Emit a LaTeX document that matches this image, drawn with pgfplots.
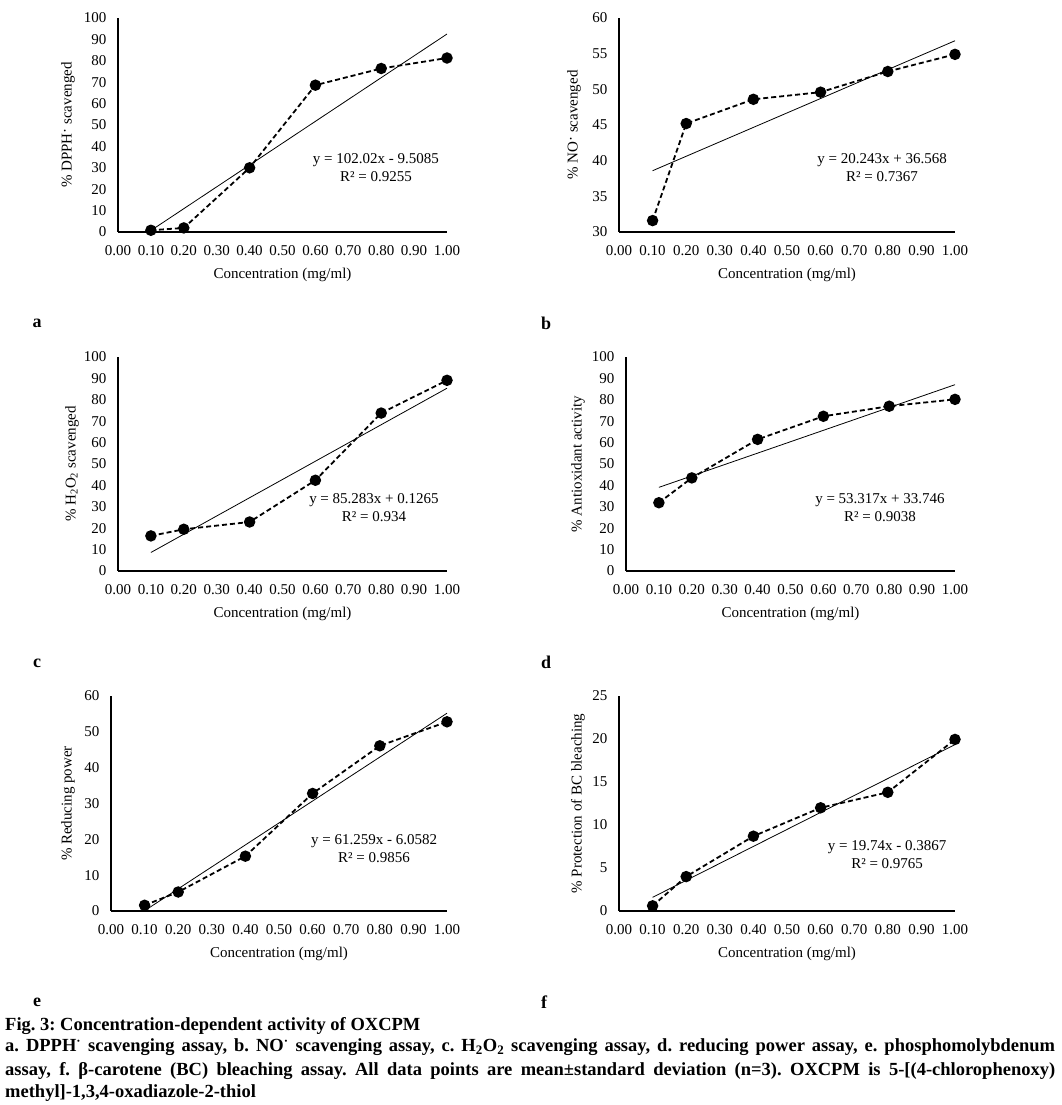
\documentclass[border=0pt]{standalone}
\usepackage{pgfplots}
\pgfplotsset{compat=1.18}
\usepackage{fontspec}
\setmainfont{Liberation Serif}
\frenchspacing

\newcommand\fs{\fontsize{15bp}{18bp}\selectfont}
\newcommand\capfs{\fontsize{18.5bp}{22bp}\selectfont\bfseries}
\newcommand\rad{\raisebox{0.25ex}{·}}

\pgfplotsset{
  panel/.style={
    scale only axis, width=329bp, height=214bp,
    anchor=south west,
    axis lines*=left,
    axis line style={line width=1.6bp, black},
    xmin=0, xmax=1,
    xtick={0,0.1,0.2,0.3,0.4,0.5,0.6,0.7,0.8,0.9,1},
    major tick length=0pt,
    /pgf/number format/assume math mode=true,
    xticklabel style={/pgf/number format/.cd, fixed, fixed zerofill, precision=2, /tikz/.cd, yshift=-10bp},
    yticklabel style={xshift=-8bp},
    tick label style={font=\fs},
    label style={font=\fs},
    xlabel={Concentration (mg/ml)},
    xlabel style={at={(axis description cs:0.5,0)}, anchor=center, yshift=-43bp},
    clip=false,
  },
  obs/.style={black, line width=1.8bp, dash pattern=on 5bp off 3bp,
    mark=*, mark size=4.8bp, mark options={solid, fill=black}},
  trend/.style={black, line width=0.8bp, mark=none},
}
\tikzset{
  eq/.style={font=\fs, align=center, inner sep=0pt},
  lett/.style={font=\fontsize{18bp}{20bp}\selectfont\bfseries, inner sep=0pt},
}

\begin{document}
\begin{tikzpicture}
\useasboundingbox (0,0) rectangle (1062bp,1105bp);

% a
\begin{axis}[panel, at={(118bp,873bp)},
  ymin=0, ymax=100, ytick={0,10,...,100},
  ylabel={\% DPPH\rad{} scavenged},
  ylabel style={at={(axis description cs:-0.152,0.5)}, anchor=center}]
\addplot[obs] coordinates {(0.1,0.8)(0.2,1.9)(0.4,30.0)(0.6,68.6)(0.8,76.4)(1,81.3)};
\addplot[trend] coordinates {(0.1,0.69)(1,92.51)};
\node[eq] at (axis cs:0.784,29.9) {y = 102.02x - 9.5085\\R² = 0.9255};
\end{axis}

% b
\begin{axis}[panel, at={(619bp,873bp)}, width=336bp,
  ymin=30, ymax=60, ytick={30,35,...,60},
  ylabel={\% NO\rad{} scavenged},
  ylabel style={at={(axis description cs:-0.134,0.5)}, anchor=center}]
\addplot[obs] coordinates {(0.1,31.6)(0.2,45.2)(0.4,48.6)(0.6,49.6)(0.8,52.5)(1,54.9)};
\addplot[trend] coordinates {(0.1,38.59)(1,56.81)};
\node[eq] at (axis cs:0.783,38.97) {y = 20.243x + 36.568\\R² = 0.7367};
\end{axis}

% c
\begin{axis}[panel, at={(118bp,534bp)},
  ymin=0, ymax=100, ytick={0,10,...,100},
  ylabel={\% H\textsubscript{2}O\textsubscript{2} scavenged},
  ylabel style={at={(axis description cs:-0.14,0.5)}, anchor=center}]
\addplot[obs] coordinates {(0.1,16.4)(0.2,19.5)(0.4,22.9)(0.6,42.4)(0.8,73.8)(1,89.1)};
\addplot[trend] coordinates {(0.1,8.65)(1,85.41)};
\node[eq] at (axis cs:0.778,29.7) {y = 85.283x + 0.1265\\R² = 0.934};
\end{axis}

% d
\begin{axis}[panel, at={(626bp,534bp)},
  ymin=0, ymax=100, ytick={0,10,...,100},
  ylabel={\% Antioxidant activity},
  ylabel style={at={(axis description cs:-0.146,0.5)}, anchor=center}]
\addplot[obs] coordinates {(0.1,31.9)(0.2,43.5)(0.4,61.5)(0.6,72.3)(0.8,77.0)(1,80.2)};
\addplot[trend] coordinates {(0.1,39.08)(1,87.06)};
\node[eq] at (axis cs:0.772,29.7) {y = 53.317x + 33.746\\R² = 0.9038};
\end{axis}

% e
\begin{axis}[panel, at={(111bp,194bp)}, width=336bp, height=215bp,
  ymin=0, ymax=60, ytick={0,10,...,60},
  ylabel={\% Reducing power},
  ylabel style={at={(axis description cs:-0.128,0.5)}, anchor=center}]
\addplot[obs] coordinates {(0.1,1.6)(0.2,5.3)(0.4,15.3)(0.6,32.8)(0.8,46.1)(1,52.8)};
\addplot[trend] coordinates {(0.1,0.07)(1,55.20)};
\node[eq] at (axis cs:0.783,17.4) {y = 61.259x - 6.0582\\R² = 0.9856};
\end{axis}

% f
\begin{axis}[panel, at={(619bp,194bp)}, width=336bp, height=215bp,
  ymin=0, ymax=25, ytick={0,5,...,25},
  ylabel={\% Protection of BC bleaching},
  ylabel style={at={(axis description cs:-0.122,0.5)}, anchor=center}]
\addplot[obs] coordinates {(0.1,0.6)(0.2,4.0)(0.4,8.7)(0.6,12.0)(0.8,13.8)(1,19.95)};
\addplot[trend] coordinates {(0.1,1.59)(1,19.35)};
\node[eq] at (axis cs:0.798,6.5) {y = 19.74x - 0.3867\\R² = 0.9765};
\end{axis}

% panel letters
\node[lett] at (37bp,782bp) {a};
\node[lett] at (546bp,782bp) {b};
\node[lett] at (37bp,442bp) {c};
\node[lett] at (546bp,443bp) {d};
\node[lett] at (37bp,103bp) {e};
\node[lett] at (544bp,103bp) {f};

% caption
\node[anchor=base west, inner sep=0pt, font=\capfs] at (5bp,74bp)
  {Fig. 3: Concentration-dependent activity of OXCPM};
\node[anchor=base west, inner sep=0pt, font=\capfs] at (5bp,53bp)
  {\makebox[1050bp][s]{a. DPPH\textsuperscript{·} scavenging assay, b. NO\textsuperscript{·} scavenging assay, c. H\textsubscript{2}O\textsubscript{2} scavenging assay, d. reducing power assay, e. phosphomolybdenum}};
\node[anchor=base west, inner sep=0pt, font=\capfs] at (5bp,30bp)
  {\makebox[1050bp][s]{assay, f. β-carotene (BC) bleaching assay. All data points are mean±standard deviation (n=3). OXCPM is 5-[(4-chlorophenoxy)}};
\node[anchor=base west, inner sep=0pt, font=\capfs] at (5bp,8bp)
  {methyl]-1,3,4-oxadiazole-2-thiol};
\end{tikzpicture}
\end{document}
